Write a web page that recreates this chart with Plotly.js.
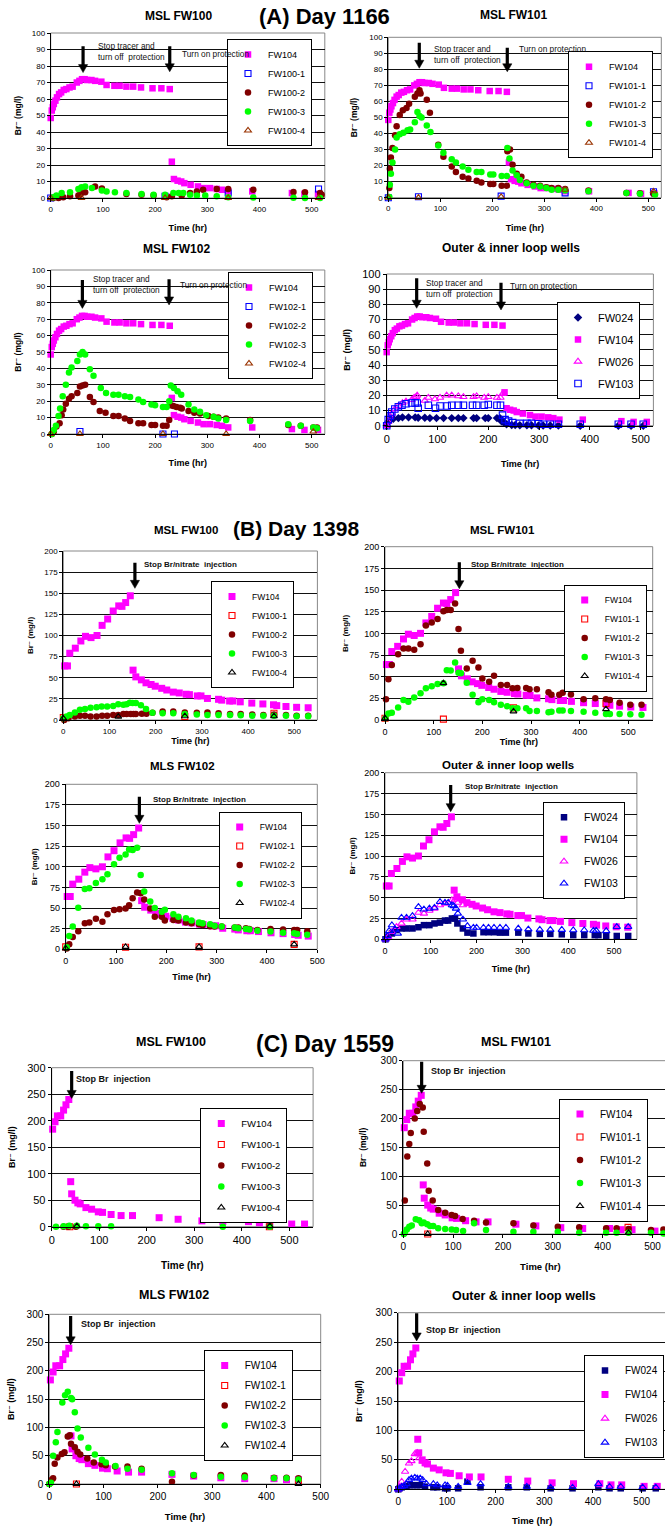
<!DOCTYPE html>
<html><head><meta charset="utf-8">
<script src="https://cdn.plot.ly/plotly-3.0.1.min.js"></script>
<style>html,body{margin:0;padding:0;overflow:hidden;background:#fff}#chart{width:680px;height:1528px}</style>
</head><body><div id="chart"></div>
<script>
// ---------------- DATA ----------------
// Panel A (Day 1166)
const A_FW104_t = [0,2,4,6,9,12,16,20,25,30,36,42,50,55,60,65,70,78,85,97,107,122,132,145,158,173,195,212,228,232,236,243,250,256,268,282,293,305,318,328,340,386,462,486,512];
const A_FW104   = [48.5,53,55,57,59,61,63,64,65.5,66,67,67.5,70,71,72,72,71.5,71.5,71,70.5,68.5,68,68,67.5,67.5,67,66.5,66.5,66,22,11.5,10.5,10,9,8,7,6,6,5.5,5,4,4,3,2.5,2.5];

const A1_1_t = [0,219,340,513];
const A1_1   = [0,1,3,5.5];
const A1_2_t = [5,15,24,37,53,56,59,66,85,98,145,174,197,222,232,251,267,280,292,318,340,388,465,487,516,519];
const A1_2   = [0,0,0.5,1,1.5,2,3,3.5,7,5.7,2.5,2,1.5,0.5,1,1.5,3,4,5,5.5,5.5,5,3.7,3.5,3,2];
const A1_3_t = [5,11,21,37,53,59,66,79,98,107,123,145,174,197,219,235,245,254,267,280,296,318,340,388,465,487,516];
const A1_3   = [0.5,1.5,3,3.5,5.5,6.5,7,6,4.5,4,3.5,3,2.5,2,2,3,3,3,2,1.5,1.5,1,0.5,0.3,0.2,0,0];
const A1_4_t = [0,59,219,340,513];
const A1_4   = [0,0,0,0,0];

const A2_1_t = [0,58,217,340,510];
const A2_1   = [0,0.6,1,3,3.7];
const A2_2_t = [2,3,5,8,13,16,22,28,35,40,51,56,60,62,74,80,96,106,122,130,143,154,170,179,196,202,218,228,229,234,239,247,256,266,279,292,304,314,327,340,385,458,484,510];
const A2_2   = [6,18,25,31,39,44.5,51.5,54.5,56,58.5,63,65,67,65,61,53,33,25.5,19.5,16,13,12,10.5,9.5,8.5,8.5,7.5,7.5,29,30,20.5,15,13,9.5,8,7.5,6.5,6,6,5.5,4.5,3,2.7,2.5];
const A2_3_t = [2,3,5,8,13,16,22,29,37,42,51,56,60,64,74,81,96,106,122,130,143,154,170,179,196,202,218,228,229,233,239,247,253,266,279,292,304,314,327,340,385,458,484,513];
const A2_3   = [0.5,8,15,22,30,37.5,39.5,40.5,42,42.5,47,53.5,51,50,45,41,32.5,28,24,22,19.5,17.5,16,16,14.5,14.5,13.5,13.5,31,24.5,17,14,11,9,7.5,7,6,5,5,4.5,4,3,2.5,2];
const A2_4_t = [0,58,217,340,510];
const A2_4   = [0,0,0.5,5,4];

const A3_1_t = [56,215,237];
const A3_1   = [1.5,0,0];
const A3_2_t = [2,6,11,17,21,24,29,35,40,51,56,61,66,75,82,94,105,120,130,142,152,168,177,193,200,215,222,227,230,235,241,248,251,264,275,286,302,312,321,336,382,455,479,503,510];
const A3_2   = [0,1.5,4.5,6.5,11.5,15,18.5,21.5,23,25,29,29.5,30,22.5,19.5,14,13,11,11,9.5,8,6.5,6.5,5.5,5.5,5,5,8.5,17.5,17,16.5,16,15.5,14,13,12.5,11,10.5,10,9.5,8.5,5.5,5,4,4];
const A3_3_t = [2,6,10,15,18,23,29,35,40,51,56,61,66,75,82,96,106,120,130,142,152,168,177,193,200,215,222,227,230,236,243,250,264,275,286,298,312,321,336,382,455,479,503,510];
const A3_3   = [0,2.5,5,11,15.5,23,30,37.5,40.5,44.5,48.5,50,48.5,39.5,35.5,28,25,24,24,23,22.5,21,19.5,18,17.5,16.5,16.5,20,29.5,28,26,24,18,15,13.5,11.5,10.5,9.5,8.5,8,6,5,4,3.5];
const A3_4_t = [0,56,215,336,503];
const A3_4   = [0,0,0,0,1.5];

const A4_024_t = [0,3,7,13,23,31,43,56,62,75,85,98,112,128,141,151,171,177,194,200,217,223,226,231,236,246,253,262,276,285,299,308,322,338,381,456,481,505];
const A4_024   = [0,2.5,4,4.5,5,5.5,5.5,5.5,5.3,5.3,5,5,5,5,5,5,5,5,5,5,5,5,3,2,1,0.5,0.5,0.3,0.3,0.3,0.2,0.2,0.2,0.2,0,0,0,0];
const A4_026_t = [0,3,7,10,16,23,31,38,49,54,58,60,75,82,95,105,118,128,141,151,171,177,192,200,217,224,228];
const A4_026   = [0,2.5,6,8,11,13,15,16,17,18.5,19,20,16.5,18.5,17.5,18.5,20,20,19.5,19,19,19.5,18.5,19,18.5,18.5,21];
const A4_103_t = [0,3,7,10,16,23,30,38,49,56,60,62,82,96,105,119,128,141,151,169,177,192,200,217,224,228,233,240,248,262,276,285,299,308,322,338,381,456,481,505];
const A4_103   = [0,4,6.5,9,11,12.5,13.5,14.5,15,15,15,11.5,13.5,11.5,13,13,13.5,13.5,13.5,13.5,13.5,13.5,14,13.5,13.5,7,4,3,2,1.5,1.5,1.5,1.3,1,1,1,1,1,1,1];

// Panel B (Day 1398)
const B_FW104_t = [3,9,14,26,38,48,60,73,84,96,108,120,127,135,145,151,157,169,179,190,199,213,224,238,251,266,273,290,298,312,336,343,360,367,383,408,432,455,462,482,505,530];
const B_FW104   = [64,64,79,85,93.5,99,97.5,100,112,119.5,129,135,134.5,139,147,59,51,47.5,44,42,40,37.5,35.5,33,32,30.5,30,28.5,28.5,25.5,24.5,23.5,22.5,22.5,21.5,20,19,18,17,16,15,14.5];

const B1_1_t = [0,263,456];
const B1_1   = [3,4,8];
const B1_2_t = [2,11,25,36,47,59,72,84,95,108,119,130,137,146,152,157,170,180,193,215,238,263,289,312,336,361,384,409,433,456,482,505,530];
const B1_2   = [0,2,4,5,5,4,4,5,5,6,6,7,7,7,7,7,7.5,7.5,8.5,10,10,9,8.5,9,8,7,7,6.5,6,6.5,6,5,5];
const B1_3_t = [0,7,14,25,36,47,59,72,83,95,108,119,130,137,144,150,157,168,179,193,215,238,263,289,312,336,361,384,409,433,456,482,505,530];
const B1_3   = [2,4,6,9,12,13,14.5,15,16,16,16.5,18.5,18,18.5,20.5,20,20,17.5,13,8.5,8,8,7,6.5,6,6,6,5.5,5,5,5,5,4.5,4.5];
const B1_4_t = [0,119,263,456];
const B1_4   = [2,4,4.5,4.5];

const B2_1_t = [0,120,264,454];
const B2_1   = [2,1,14,19];
const B2_2_t = [2,7,14,27,38,48,60,73,84,96,108,120,127,135,144,151,156,168,180,192,200,214,224,238,251,262,272,290,297,312,336,342,358,365,382,408,432,454,462,482,504,527];
const B2_2   = [24,47,63.5,76,82.5,82.5,81,87.5,109,112.5,116.5,125.5,127,127,134.5,105,80,59.5,68.5,60.5,48,44,51,40.5,40.5,36.5,37,37,35.5,35.5,32,29,29,31.5,29.5,24,25,24,23,20,17.5,17.5];
const B2_3_t = [1,7,14,27,38,48,60,73,84,96,108,120,127,135,144,151,156,168,180,192,200,214,224,238,251,262,272,290,297,312,336,342,358,365,382,408,432,454,462,482,504,527];
const B2_3   = [2,7.5,8.5,14.5,23,21,26,31,36.5,39,41.5,42.5,57.5,57,66.5,54.5,54,43,29,20.5,24,23,20.5,17.5,16,13.5,13.5,13.5,10.5,10.5,9,9.5,11,11,10.5,9.5,8.5,7,7,7,6.5,6];
const B2_4_t = [0,120,264,454];
const B2_4   = [2,42.5,10,12.5];

const B3_1_t = [0,119,265,454];
const B3_1   = [3,2.5,3,6];
const B3_2_t = [2,7,14,25,38,47,60,73,83,96,107,119,126,133,142,149,156,168,177,191,197,214,224,239,250,265,272,287,296,310,336,343,358,365,381,407,432,454,460,480];
const B3_2   = [1,6,15,22,31.5,32.5,37,33.5,42.5,47.5,48.5,49.5,53.5,62,69,68,60.5,49.5,39.5,39.5,35,35.5,35,32.5,31.5,30.5,29.5,28,27.5,27.5,26.5,26.5,25.5,24.5,23.5,24.5,24,23.5,23.5,22];
const B3_3_t = [2,7,14,25,38,47,60,73,83,96,107,119,126,133,142,149,156,168,177,191,197,214,224,239,250,265,272,287,296,310,336,343,358,365,381,407,432,454,460,480];
const B3_3   = [2.5,16,27.5,50.5,73,74,80.5,85,91,103,111,115,121,120.5,123,90,70,58,50,45.5,48,42.5,39.5,37.5,35,32.5,31.5,30.5,28.5,27.5,26.5,25.5,24.5,24,22.5,21.5,20,19.5,18.5,17.5];
const B3_4_t = [0,119,265,454];
const B3_4   = [1,3,3,6];

const B4_024_t = [1,7,15,25,36,47,60,73,85,97,108,120,131,138,146,153,158,170,180,193,215,226,238,251,264,291,313,338,361,386,411,435,458,466,483,506,531];
const B4_024   = [0,3,7,11,13,13,13,14.5,17,17,19,20,22.5,22.5,25,25,19,13,8,7,8.5,8.5,8.5,8,8,8,7,6.5,6.5,6,5,5,5,5,4,4,4];
const B4_026_t = [1,7,15,25,36,47,60,73,85,97,108,120,131,146,153,159,170];
const B4_026   = [0,3,9,15,19,24,24,32,31,34.5,37,41,43,47,48,44,41];
const B4_103_t = [1,5,9,15,22,28,36,47,60,73,85,97,108,120,131,138,146,150,155,159,170,180,193,200,215,226,238,251,264,291,313,338,361,386,411,435,455,461,483,506,531];
const B4_103   = [0,4,10,17,12,7,26,26,28,39,36,37,38,45,44,44,41,40,37,31,24,16,14,14,14,14,14,14,14,13,12,11.5,11.5,11.5,11,11,10.5,10.5,10,15,15];

// Panel C (Day 1559)
const C_FW104_t = [2,7,12,19,25,30,36,40,42,49,55,60,72,84,98,107,125,146,170,226,266,316,360,414,437,459,505,532];
const C_FW104   = [184,198,209,209,220,230,240,85,62,50,45,43,36,33,28,27,23,21,21,17,14,11,9.5,9.5,7.5,7.5,5,5];

const C1_1_t = [38,458];
const C1_1   = [0,0];
const C1_2_t = [25,35,51,459];
const C1_2   = [0,0,0,1];
const C1_3_t = [9,25,37,53,72,98,125,360,459];
const C1_3   = [0,1,2,2,1,1,1,0,0];
const C1_4_t = [53,459];
const C1_4   = [1,1];

const C2_1_t = [49,451];
const C2_1   = [0,11.5];
const C2_2_t = [3,8,12,15,23,28,33,39,41,48,51,59,70,84,97,104,119,142,166,221,261,310,353,407,428,452,497,522];
const C2_2   = [58,134,156,175,200,213,225,219,177,122,75,58,41.5,37,33,31,26,23,20,18.5,14.5,12.7,11.5,10,10,8.7,7,8];
const C2_3_t = [1,3,7,12,17,25,32,37,41,48,54,60,70,84,97,106,120,142,166,221,261,310,353,407,428,452,497,522];
const C2_3   = [0,2,8,12.5,14.5,25.5,24,18.5,20,17,14,14,10,8.7,8,7,5,18.5,7,4,4,4,2.3,2.3,2.3,2.3,2.3,1];
const C2_4_t = [49,452];
const C2_4   = [0,2];

const C3_1_t = [50,459];
const C3_1   = [0,4];
const C3_2_t = [0,4,7,10,15,23,28,34,38,40,47,52,57,70,82,96,104,121,144,170,226,266,316,360,414,437,459];
const C3_2   = [0,7,10,36,47,53,56,84,86,71,65,57,52,45,38,35,33,31,31,27,4,15,16,15,11,11,10];
const C3_3_t = [0,3,7,12,15,24,29,34,40,42,47,52,58,72,84,97,104,122,144,170,226,266,316,360,414,437,459];
const C3_3   = [0,2,50,74,92,144,157,163,152,150,127,98,82,64,52,43,38,32,27,25,19,16,13,12,10,10,8];
const C3_4_t = [50,459];
const C3_4   = [0,0];

const C4_024_t = [0,3,7,12,17,24,31,38,45,55,72,80,96,101,123,142,169,226,264,313,358,411,434,457,502,529];
const C4_024   = [0,2,3.4,4.5,5.5,7,7,7,7,4.5,3.4,3.4,1.7,1.7,1.7,13,3.4,3.4,3.4,1.7,1.7,3.4,1.7,1.7,1.7,1.7];
const C4_026_t = [0,3,7,14,22,27,34,39,43,50,58];
const C4_026   = [0,4.5,13,30,44,48,60,62,53,47,43];
const C4_103_t = [0,3,7,12,17,22,27,34,39,45,50,58,72,80,96,101,123,142,169,226,264,313,358,411,434,457,502,529];
const C4_103   = [0,2,4.5,6,9,16,18.5,20,18.5,18.5,16,9,9,7,7,6,4.5,11,9,4.5,4.5,3,3,9,4.5,4.5,3.4,3.4];

// Text labels
const panelTitles = ['(A) Day 1166','(B) Day 1398','(C) Day 1559'];
const subTitles = ['MSL FW100','MSL FW101','MSL FW102','Outer & inner loop wells',
                   'MSL FW100','MSL FW101','MLS FW102','Outer & inner loop wells',
                   'MSL FW100','MSL FW101','MLS FW102','Outer & inner loop wells'];
const xTitle = 'Time (hr)';
const yTitle = 'Br\u207B (mg/l)';

// ---------------- STYLE / LAYOUT ----------------
const FONT = 'Liberation Sans, Arial, Helvetica, DejaVu Sans, sans-serif';
const W = 680, H = 1528;
const PX = v => v / W, PY = v => 1 - v / H;
const sfx = i => (i === 1 ? '' : String(i));

const ST = {
  fw104a:{symbol:'square', color:'#FF00FF', size:6.5},
  fw104: {symbol:'square', color:'#FF00FF', size:7},
  o1a:   {symbol:'square-open', color:'#0000FF', size:6},
  o1b:   {symbol:'square-open', color:'#FF0000', size:6},
  c2:    {symbol:'circle', color:'#800000', size:6.5},
  c3:    {symbol:'circle', color:'#00FF00', size:6.5},
  t4a:   {symbol:'triangle-up-open', color:'#993300', size:6},
  t4b:   {symbol:'triangle-up-open', color:'#000000', size:6},
  d024:  {symbol:'diamond', color:'#000080', size:6.5},
  s024:  {symbol:'square', color:'#000080', size:6.5},
  t026:  {symbol:'triangle-up-open', color:'#FF00FF', size:6.5},
  s103:  {symbol:'square-open', color:'#0000FF', size:6.5},
  t103:  {symbol:'triangle-up-open', color:'#0000FF', size:6.5}
};

// subplot geometry (pixels); xt/yt = [title font size, standoff]
const S = [
 {l:50.7, r:324.8, t:33,    b:198,    xmax:525, ymax:100, dy:10, tick:8,  xt:[9,11.5], yt:[8.5,7.9], lg:{r:312, cy:92.5, fs:9, gap:0}},
 {l:388.3,r:661.3, t:37.3,  b:197.7,  xmax:525, ymax:100, dy:10, tick:8,  xt:[9,11.8], yt:[8.5,10],  lg:{r:653, cy:104.7, fs:9, gap:0}},
 {l:50.7, r:324.8, t:270,   b:434,    xmax:525, ymax:100, dy:10, tick:8,  xt:[9,11],   yt:[8.5,8.4], lg:{r:313, cy:325.5, fs:9, gap:0}},
 {l:386.7,r:653.4, t:274,   b:425.7,  xmax:525, ymax:100, dy:10, tick:11, xt:[9,16],   yt:[9,9.2],   lg:{r:640, cy:350.5, fs:11, gap:3}},
 {l:63.3, r:317.4, t:551,   b:720,    xmax:550, ymax:200, dy:25, tick:8,  xt:[9,3],    yt:[8,9.2],   lg:{r:294, cy:634.5, fs:8.5, gap:0}},
 {l:385,  r:652.7, t:546.7, b:720,    xmax:550, ymax:200, dy:25, tick:9,  xt:[9,2],    yt:[8,14.2],  lg:{r:646.7, cy:638, fs:8.5, gap:0}},
 {l:65.7, r:317.3, t:784.3, b:949.3,  xmax:500, ymax:200, dy:25, tick:9,  xt:[9,8.6],  yt:[8,5.6],   lg:{r:301.7, cy:865, fs:8.5, gap:0}},
 {l:385,  r:636.9, t:772.7, b:939.3,  xmax:550, ymax:200, dy:25, tick:9,  xt:[9,10.6], yt:[8,7.2],   lg:{r:625, cy:850.3, fs:10.5, gap:3}},
 {l:51.7, r:313.1, t:1067.7,b:1226.7, xmax:550, ymax:300, dy:50, tick:11, xt:[10,16.7],yt:[9,9],     lg:{r:287.3, cy:1165.5, fs:9.5, gap:2}},
 {l:403.3,r:677.4, t:1060.7,b:1234,   xmax:550, ymax:300, dy:50, tick:10, xt:[9.5,11.7],yt:[8.5,11.9],lg:{r:648, cy:1160, fs:10, gap:4}},
 {l:49.3, r:320.7, t:1314.3,b:1484,   xmax:500, ymax:300, dy:50, tick:10, xt:[9.5,11.7],yt:[9,10.2], lg:{r:292.7, cy:1405.5, fs:10, gap:1}},
 {l:398.3,r:666,   t:1312.7,b:1489.3, xmax:550, ymax:300, dy:50, tick:10, xt:[9.5,10.4],yt:[9,10.5], lg:{r:664, cy:1406.5, fs:10, gap:5}}
];

// series per subplot: [name, t, y, style]
const SERIES = [
 [['FW104',A_FW104_t,A_FW104,'fw104a'],['FW100-1',A1_1_t,A1_1,'o1a'],['FW100-2',A1_2_t,A1_2,'c2'],['FW100-3',A1_3_t,A1_3,'c3'],['FW100-4',A1_4_t,A1_4,'t4a']],
 [['FW104',A_FW104_t,A_FW104,'fw104a'],['FW101-1',A2_1_t,A2_1,'o1a'],['FW101-2',A2_2_t,A2_2,'c2'],['FW101-3',A2_3_t,A2_3,'c3'],['FW101-4',A2_4_t,A2_4,'t4a']],
 [['FW104',A_FW104_t,A_FW104,'fw104a'],['FW102-1',A3_1_t,A3_1,'o1a'],['FW102-2',A3_2_t,A3_2,'c2'],['FW102-3',A3_3_t,A3_3,'c3'],['FW102-4',A3_4_t,A3_4,'t4a']],
 [['FW024',A4_024_t,A4_024,'d024'],['FW104',A_FW104_t,A_FW104,'fw104a'],['FW026',A4_026_t,A4_026,'t026'],['FW103',A4_103_t,A4_103,'s103']],
 [['FW104',B_FW104_t,B_FW104,'fw104'],['FW100-1',B1_1_t,B1_1,'o1b'],['FW100-2',B1_2_t,B1_2,'c2'],['FW100-3',B1_3_t,B1_3,'c3'],['FW100-4',B1_4_t,B1_4,'t4b']],
 [['FW104',B_FW104_t,B_FW104,'fw104'],['FW101-1',B2_1_t,B2_1,'o1b'],['FW101-2',B2_2_t,B2_2,'c2'],['FW101-3',B2_3_t,B2_3,'c3'],['FW101-4',B2_4_t,B2_4,'t4b']],
 [['FW104',B_FW104_t,B_FW104,'fw104'],['FW102-1',B3_1_t,B3_1,'o1b'],['FW102-2',B3_2_t,B3_2,'c2'],['FW102-3',B3_3_t,B3_3,'c3'],['FW102-4',B3_4_t,B3_4,'t4b']],
 [['FW024',B4_024_t,B4_024,'s024'],['FW104',B_FW104_t,B_FW104,'fw104'],['FW026',B4_026_t,B4_026,'t026'],['FW103',B4_103_t,B4_103,'t103']],
 [['FW104',C_FW104_t,C_FW104,'fw104'],['FW100-1',C1_1_t,C1_1,'o1b'],['FW100-2',C1_2_t,C1_2,'c2'],['FW100-3',C1_3_t,C1_3,'c3'],['FW100-4',C1_4_t,C1_4,'t4b']],
 [['FW104',C_FW104_t,C_FW104,'fw104'],['FW101-1',C2_1_t,C2_1,'o1b'],['FW101-2',C2_2_t,C2_2,'c2'],['FW101-3',C2_3_t,C2_3,'c3'],['FW101-4',C2_4_t,C2_4,'t4b']],
 [['FW104',C_FW104_t,C_FW104,'fw104'],['FW102-1',C3_1_t,C3_1,'o1b'],['FW102-2',C3_2_t,C3_2,'c2'],['FW102-3',C3_3_t,C3_3,'c3'],['FW102-4',C3_4_t,C3_4,'t4b']],
 [['FW024',C4_024_t,C4_024,'s024'],['FW104',C_FW104_t,C_FW104,'fw104'],['FW026',C4_026_t,C4_026,'t026'],['FW103',C4_103_t,C4_103,'t103']]
];

// arrows: [subplot, x, yTip, yTail]
const ARROWS = [
 [1,62,76,92],[1,228,76.5,92],
 [2,59.6,80.7,96.6],[2,228.8,78.5,93.5],
 [3,60.7,76.6,93.9],[3,226.7,78.7,94.3],
 [4,59,77.4,97.2],[4,225,76.3,94.3],
 [5,155,155.8,186],[6,152.7,151.5,182],[7,146.4,152.7,185],[8,143.4,153.2,185.2],
 [9,42,242,294],[10,36.8,243.5,298],[11,39.3,246,297],[12,37.7,252,299]
];
const T_STOP_A = 'Stop tracer and<br>turn off\u00a0 protection';
const T_ON_A = 'Turn on protection';
const T_STOP_B = 'Stop Br/nitrate\u00a0 injection';
const T_STOP_C = 'Stop Br\u00a0 injection';
// notes: [subplot, x(left), y(center), text, size, bold]
const NOTES = [
 [1,87,89,T_STOP_A,8.3,false],[1,248,87.5,T_ON_A,8.3,false],
 [2,83.3,89.1,T_STOP_A,8.3,false],[2,246.8,92.4,T_ON_A,8.3,false],
 [3,77.3,90.9,T_STOP_A,8.3,false],[3,243.3,90.7,T_ON_A,8.3,false],
 [4,74.1,90.6,T_STOP_A,8.3,false],[4,239.5,91.9,T_ON_A,8.3,false],
 [5,169.6,184.4,T_STOP_B,8,true],[6,173.3,180,T_STOP_B,8,true],[7,169.5,181.8,T_STOP_B,8,true],[8,169.6,183.2,T_STOP_B,8,true],
 [9,47,278,T_STOP_C,9,true],[10,51.5,282,T_STOP_C,9,true],[11,55.3,282,T_STOP_C,9,true],[12,53.4,270,T_STOP_C,9,true]
];
// title positions [cx, cy, size]
const SUBTITLE_POS = [[178,15.5,12],[513,15,12],[176,249,12],[511,248.3,12],
                      [186,530,11.5],[502,530,11.5],[182,766,11.5],[508,765,11.5],
                      [171,1041.7,12.5],[516,1041.7,12.5],[174.5,1295,12.5],[524,1296,12.5]];
const PANEL_POS = [[324,16,22],[296,529,21],[325,1043.5,23]];

// ---------------- BUILD ----------------
const traces = [];
const layout = {width:W, height:H, autosize:false, margin:{l:0,r:0,t:0,b:0},
  paper_bgcolor:'#fff', plot_bgcolor:'#fff', font:{family:FONT,color:'#000'},
  showlegend:true, annotations:[], shapes:[]};

S.forEach((s, idx) => {
  const i = idx + 1, k = sfx(i);
  layout['xaxis'+k] = {domain:[PX(s.l), PX(s.r)], range:[0, s.xmax], anchor:'y'+k,
    tick0:0, dtick:100, showgrid:false, zeroline:false, showline:true, linecolor:'#000', linewidth:1,
    ticks:'outside', ticklen:3, tickcolor:'#000', tickfont:{family:FONT,size:s.tick,color:'#000'}, fixedrange:true,
    automargin:false,
    title:{text:'<b>'+xTitle+'</b>', font:{family:FONT,size:s.xt[0],color:'#000'}, standoff:s.xt[1]}};
  layout['yaxis'+k] = {domain:[PY(s.b), PY(s.t)], range:[0, s.ymax], anchor:'x'+k,
    tick0:0, dtick:s.dy, showgrid:true, gridcolor:'#111', gridwidth:1, zeroline:false, showline:true,
    linecolor:'#000', linewidth:1, ticks:'outside', ticklen:3, tickcolor:'#000',
    tickfont:{family:FONT,size:s.tick,color:'#000'}, fixedrange:true, automargin:false,
    title:{text:'<b>'+yTitle+'</b>', font:{family:FONT,size:s.yt[0],color:'#000'}, standoff:s.yt[1]}};
  const lname = i === 1 ? 'legend' : 'legend'+i;
  layout[lname] = {x:PX(s.lg.r), xanchor:'right', y:PY(s.lg.cy), yanchor:'middle',
    bgcolor:'#fff', bordercolor:'#000', borderwidth:1, tracegroupgap:s.lg.gap,
    font:{family:FONT,size:s.lg.fs,color:'#000'}, orientation:'v'};
  layout.shapes.push({type:'rect', xref:'x'+k+' domain', yref:'y'+k+' domain', x0:0, x1:1, y0:0, y1:1,
    line:{color:'#888',width:1}, layer:'below'});

  SERIES[idx].forEach((sr, j) => {
    const [name, t, y, stKey] = sr;
    const st = ST[stKey];
    const xs = [], ys = [];
    for (let m = 0; m < t.length; m++) { if (t[m] <= s.xmax) { xs.push(t[m]); ys.push(y[m]); } }
    const open = st.symbol.indexOf('open') >= 0;
    traces.push({type:'scatter', mode:'markers', name:name, x:xs, y:ys,
      xaxis:'x'+k, yaxis:'y'+k, legend:lname, legendgroup:'g'+i+'_'+j, showlegend:true,
      cliponaxis:false, hoverinfo:'skip',
      marker:{symbol:st.symbol, size:st.size, color:st.color, line:{color:st.color, width:open?1.1:0}}});
  });

  const tp = SUBTITLE_POS[idx];
  layout.annotations.push({xref:'paper', yref:'paper', x:PX(tp[0]), y:PY(tp[1]), xanchor:'center', yanchor:'middle',
    text:'<b>'+subTitles[idx]+'</b>', showarrow:false, font:{family:FONT,size:tp[2],color:'#000'}});
});

PANEL_POS.forEach((p, n) => {
  layout.annotations.push({xref:'paper', yref:'paper', x:PX(p[0]), y:PY(p[1]), xanchor:'center', yanchor:'middle',
    text:'<b>'+panelTitles[n]+'</b>', showarrow:false, font:{family:FONT,size:p[2],color:'#000'}});
});

// event arrows drawn as shapes (shaft + triangular head), sized in pixels via axis scale
ARROWS.forEach(a => {
  const s = S[a[0]-1], k = sfx(a[0]);
  const ux = s.xmax / (s.r - s.l), uy = s.ymax / (s.b - s.t);
  const hw = 4.6 * ux, hl = 8 * uy;
  layout.shapes.push({type:'line', xref:'x'+k, yref:'y'+k, x0:a[1], x1:a[1], y0:a[3], y1:a[2] + hl*0.7,
    line:{color:'#000', width:3.2}});
  layout.shapes.push({type:'path', xref:'x'+k, yref:'y'+k,
    path:'M ' + (a[1]-hw) + ',' + (a[2]+hl) + ' L ' + (a[1]+hw) + ',' + (a[2]+hl) + ' L ' + a[1] + ',' + a[2] + ' Z',
    fillcolor:'#000', line:{color:'#000', width:0.5}});
});

NOTES.forEach(nn => {
  const k = sfx(nn[0]);
  layout.annotations.push({xref:'x'+k, yref:'y'+k, x:nn[1], y:nn[2], xanchor:'left', yanchor:'middle', align:'left',
    text: nn[5] ? '<b>'+nn[3]+'</b>' : nn[3], showarrow:false,
    font:{family:FONT,size:nn[4],color:'#111'}});
});

Plotly.newPlot('chart', traces, layout, {staticPlot:true, displayModeBar:false});
</script>
</body></html>
